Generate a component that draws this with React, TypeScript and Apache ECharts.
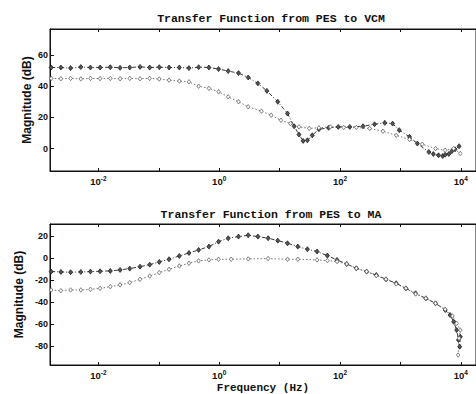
import React, { useEffect, useRef } from "react";
import * as echarts from "echarts";

// ---- Top plot: Transfer Function from PES to VCM ----
const vcmAFreq = [0.00166, 0.0024, 0.00347, 0.00513, 0.00741, 0.0107, 0.0158, 0.0229, 0.0331, 0.049, 0.0708, 0.102, 0.148, 0.219, 0.316, 0.457, 0.676, 0.977, 1.41, 2.09, 3.02, 4.37, 6.16, 9.33, 13.5, 17.4, 20.9, 24.5, 28.8, 34.7, 44.7, 64.6, 93.3, 145, 240, 372, 550, 741, 955, 1413, 1905, 2951, 3500, 4266, 5000, 5495, 6310, 7079, 8000, 9333];
const vcmADb = [52, 52, 51.6, 52.3, 52, 52, 52.2, 51.8, 52, 52.4, 52, 52.2, 52, 52, 51.6, 52.2, 52, 51, 49.7, 48.4, 45.6, 41.8, 37, 30, 22.5, 14.3, 9, 4.9, 5.3, 8.5, 12.4, 13.3, 13.9, 13.9, 14.3, 15.6, 16.5, 16, 11.8, 7.5, 3.2, -2.2, -3.5, -4.3, -4.8, -3.9, -3.5, -1.7, -0.5, 1.5];
const vcmBFreq = [0.00166, 0.0024, 0.00347, 0.00513, 0.00741, 0.0107, 0.0158, 0.0229, 0.0331, 0.049, 0.0708, 0.102, 0.148, 0.219, 0.316, 0.457, 0.676, 0.977, 1.41, 2.09, 3.02, 5.01, 7.24, 10.5, 15.1, 20.9, 30.9, 44.7, 69.2, 115, 186, 309, 513, 851, 1413, 2291, 3802, 5495, 7586, 9772];
const vcmBDb = [45, 44.8, 45, 44.7, 45, 44.9, 45, 44.8, 45, 44.8, 45, 44.6, 43.9, 43.3, 42.8, 40, 38.6, 36.4, 33.2, 30, 26.8, 24, 21.4, 18.2, 16, 13.9, 12.9, 13.3, 13.9, 13.5, 13.5, 12.9, 11.1, 8.5, 5.8, 2.8, 0, -1.1, 0, -3.2];

// ---- Bottom plot: Transfer Function from PES to MA ----
const maAFreq = [0.00166, 0.0024, 0.00347, 0.00513, 0.00741, 0.0107, 0.0158, 0.0229, 0.0331, 0.049, 0.0708, 0.102, 0.148, 0.219, 0.316, 0.457, 0.676, 0.977, 1.41, 2.09, 3.02, 4.37, 6.46, 9.33, 13.5, 20, 28.8, 41.7, 61.7, 89.1, 129, 186, 275, 398, 575, 851, 1230, 1778, 2630, 3802, 5495, 6607, 7586, 8511, 9120, 9772, 9550];
const maADb = [-12.4, -12.7, -13, -12.7, -12.4, -12.1, -11.8, -10.9, -9.7, -7.9, -6.1, -3.6, -1.2, 1.8, 4.5, 7.3, 10.3, 14.8, 17.9, 19.4, 20.6, 19.4, 17.9, 15.7, 13.3, 10.3, 7.9, 5.8, 2.1, -1.8, -5.5, -9.4, -12.4, -15.5, -19.4, -23, -27.6, -32.1, -36.7, -41.2, -47.3, -51.8, -57.9, -65.5, -74.5, -71.5, -80.6];
const maBFreq = [0.00166, 0.0024, 0.00347, 0.00513, 0.00741, 0.0107, 0.0158, 0.0229, 0.0331, 0.049, 0.0708, 0.102, 0.148, 0.219, 0.316, 0.457, 0.676, 0.977, 1.58, 3.02, 6.46, 13.5, 20, 41.7, 61.7, 89.1, 129, 186, 275, 398, 575, 851, 1230, 1778, 2630, 3802, 5495, 7244, 8511, 9772, 9333, 9000];
const maBDb = [-29.1, -29.7, -29.1, -29.1, -28.5, -27.6, -26.1, -24.5, -22.4, -19.4, -16.4, -13.3, -10.3, -7.3, -4.8, -2.7, -1.8, -1.2, -1.2, -0.9, -0.6, -1.2, -1.2, -1.8, -2.4, -3.3, -5.5, -9.4, -12.4, -16.1, -19.4, -23.6, -27.6, -32.7, -36.7, -41.2, -46.7, -52.7, -59.4, -65.5, -73, -88.2];

const titles = ["Transfer Function from PES to VCM", "Transfer Function from PES to MA"];
const yName = "Magnitude (dB)";
const xName = "Frequency (Hz)";

const X_MIN = 0.001585;
const X_MAX = 17783;

function pairs(f: number[], v: number[]) {
  return f.map((x, i) => [x, v[i]]);
}

function xLabel(v: number) {
  const e = Math.log10(v);
  const r = Math.round(e);
  if (Math.abs(e - r) > 1e-6 || r % 2 !== 0) return "";
  return `{a|10}{b|${r}}`;
}

const tickFont = { fontFamily: "Liberation Sans", fontWeight: "bold" as const, fontSize: 9, color: "#111" };

function xAxes(gridIndex: number, withName: boolean) {
  return [
    {
      type: "log",
      logBase: 10,
      gridIndex,
      min: X_MIN,
      max: X_MAX,
      position: "bottom",
      axisLine: { show: true, onZero: false, lineStyle: { color: "#111", width: 1 } },
      axisTick: { show: true, inside: true, length: 3, lineStyle: { color: "#111" } },
      splitLine: { show: false },
      minorTick: { show: false },
      axisLabel: {
        show: true,
        margin: 4,
        showMinLabel: false,
        showMaxLabel: false,
        formatter: xLabel,
        rich: {
          a: { ...tickFont, fontSize: 9.5, lineHeight: 12 },
          b: { ...tickFont, fontSize: 6.5, lineHeight: 6, verticalAlign: "top" },
        },
      },
      name: withName ? xName : "",
      nameLocation: "middle",
      nameGap: 17,
      nameMoveOverlap: false,
      nameTextStyle: { fontFamily: "Liberation Mono", fontWeight: "bold", fontSize: 11, color: "#111" },
    },
    {
      type: "log",
      logBase: 10,
      gridIndex,
      min: X_MIN,
      max: X_MAX,
      position: "top",
      axisLine: { show: true, onZero: false, lineStyle: { color: "#111", width: 1 } },
      axisTick: { show: true, inside: true, length: 3, lineStyle: { color: "#111" } },
      splitLine: { show: false },
      axisLabel: { show: false },
    },
  ];
}

function yAxis(gridIndex: number, min: number, max: number, nameGap: number, splitNumber: number) {
  return {
    type: "value",
    gridIndex,
    min,
    max,
    splitNumber,
    axisLine: { show: true, onZero: false, lineStyle: { color: "#111", width: 1 } },
    axisTick: { show: true, inside: true, length: 4, lineStyle: { color: "#111" } },
    splitLine: { show: false },
    axisLabel: { ...tickFont, margin: 2, showMinLabel: false, showMaxLabel: false },
    name: yName,
    nameLocation: "middle",
    nameGap,
    nameMoveOverlap: false,
    nameTextStyle: { fontFamily: "Liberation Sans", fontWeight: "bold", fontSize: 12, color: "#111" },
  };
}

const solidSeries = {
  type: "line",
  symbol: "diamond",
  symbolSize: [4, 5],
  itemStyle: { color: "#555", borderColor: "#111", borderWidth: 0.7 },
  lineStyle: { color: "#222", width: 0.9, type: [4, 2, 1, 2] },
};
const dottedSeries = {
  type: "line",
  symbol: "diamond",
  symbolSize: [3.5, 4.5],
  itemStyle: { color: "#fff", borderColor: "#666", borderWidth: 0.8 },
  lineStyle: { color: "#666", width: 0.9, type: [1.5, 2] },
};

export default function App() {
  const ref = useRef<HTMLDivElement>(null);
  useEffect(() => {
    if (!ref.current) return;
    const chart = echarts.init(ref.current, null, { renderer: "svg" });
    chart.setOption({
      animation: false,
      backgroundColor: "#fff",
      title: [
        {
          text: titles[0],
          left: 266,
          top: 7,
          textAlign: "center",
          textStyle: { fontFamily: "Liberation Mono", fontWeight: "bold", fontSize: 11.5, color: "#111" },
        },
        {
          text: titles[1],
          left: 266,
          top: 203,
          textAlign: "center",
          textStyle: { fontFamily: "Liberation Mono", fontWeight: "bold", fontSize: 11.5, color: "#111" },
        },
      ],
      grid: [
        { left: 50, top: 29, width: 432, height: 142, show: true, borderColor: "#111", borderWidth: 1, backgroundColor: "transparent" },
        { left: 50, top: 224, width: 432, height: 141.5, show: true, borderColor: "#111", borderWidth: 1, backgroundColor: "transparent" },
      ],
      xAxis: [...xAxes(0, false), ...xAxes(1, true)],
      yAxis: [yAxis(0, -14.4, 76.7, 17, 5), yAxis(1, -97.2, 30.8, 25, 6)],
      series: [
        { ...solidSeries, xAxisIndex: 0, yAxisIndex: 0, data: pairs(vcmAFreq, vcmADb) },
        { ...dottedSeries, xAxisIndex: 0, yAxisIndex: 0, data: pairs(vcmBFreq, vcmBDb) },
        { ...solidSeries, xAxisIndex: 2, yAxisIndex: 1, data: pairs(maAFreq, maADb) },
        { ...dottedSeries, xAxisIndex: 2, yAxisIndex: 1, data: pairs(maBFreq, maBDb) },
      ],
    });
    return () => chart.dispose();
  }, []);
  return <div ref={ref} style={{ position: "fixed", left: 0, top: 0, width: 476, height: 394 }} />;
}
